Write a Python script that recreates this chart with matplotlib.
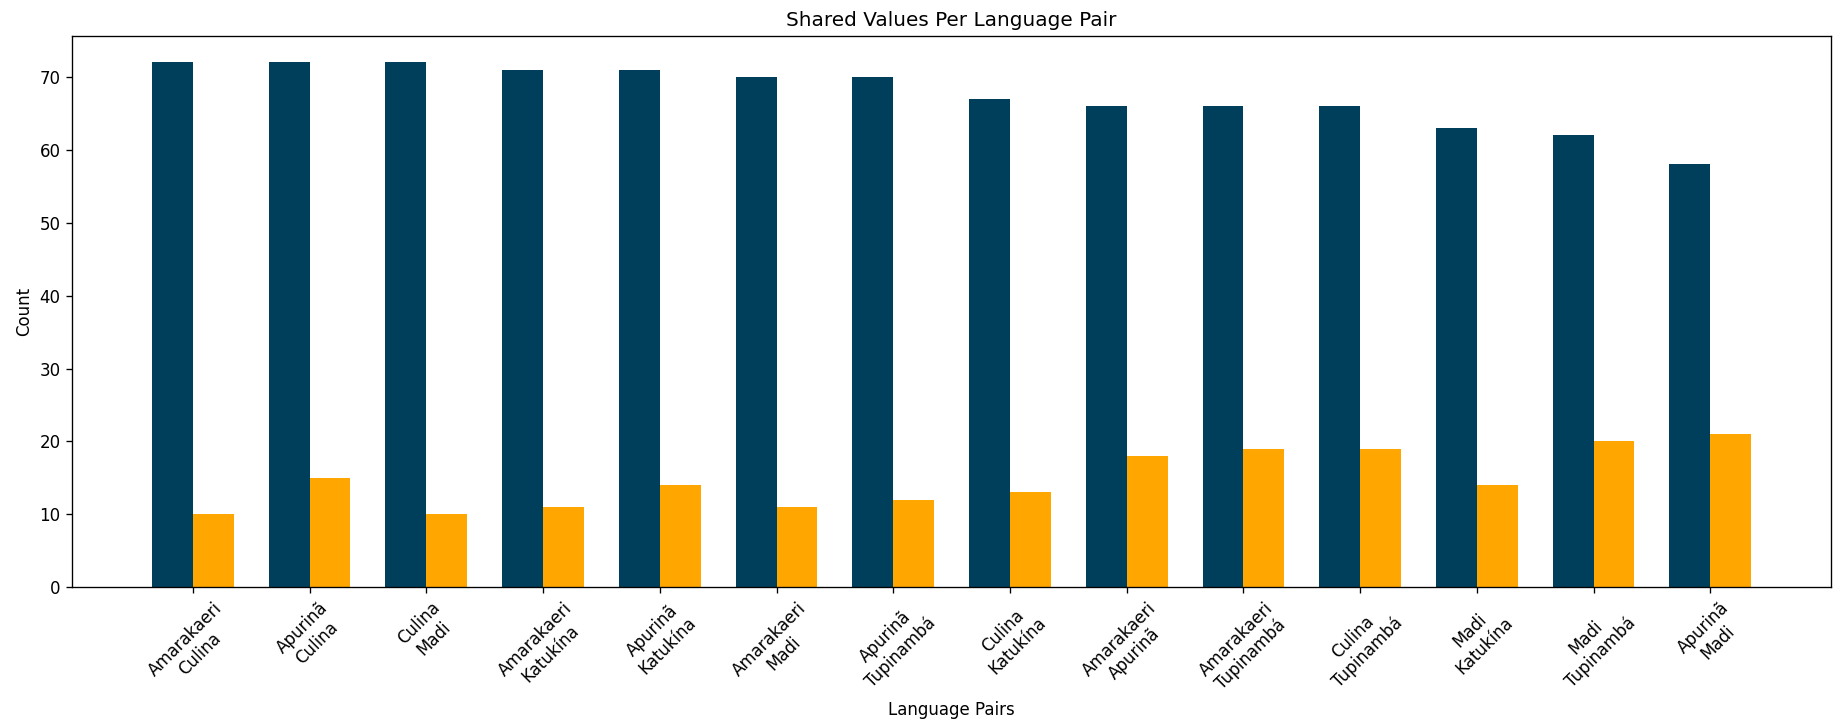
import numpy as np
import matplotlib
matplotlib.use("Agg")
import matplotlib.pyplot as plt

pairs = ["Amarakaeri\nCulina", "Apurinã\nCulina", "Culina\nMadi", "Amarakaeri\nKatukína",
         "Apurinã\nKatukína", "Amarakaeri\nMadi", "Apurinã\nTupinambá", "Culina\nKatukína",
         "Amarakaeri\nApurinã", "Amarakaeri\nTupinambá", "Culina\nTupinambá",
         "Madi\nKatukína", "Madi\nTupinambá", "Apurinã\nMadi"]
shared_a = [72, 72, 72, 71, 71, 70, 70, 67, 66, 66, 66, 63, 62, 58]
shared_b = [10, 15, 10, 11, 14, 11, 12, 13, 18, 19, 19, 14, 20, 21]

x = np.arange(len(pairs))
w = 0.35
DPI = 120

fig = plt.figure(figsize=(1839 / DPI, 724 / DPI), dpi=DPI)
ax = fig.add_axes([0.0392, 0.189, 0.9565, 0.761])
ax.bar(x - w / 2, shared_a, w, color="#003f5c")
ax.bar(x + w / 2, shared_b, w, color="#ffa600")
ax.set_xticks(x)
ax.set_xticklabels(pairs, rotation=45)
ax.set_xlabel("Language Pairs")
ax.set_ylabel("Count")
ax.set_title("Shared Values Per Language Pair")
fig.savefig("out.png", dpi=DPI)
